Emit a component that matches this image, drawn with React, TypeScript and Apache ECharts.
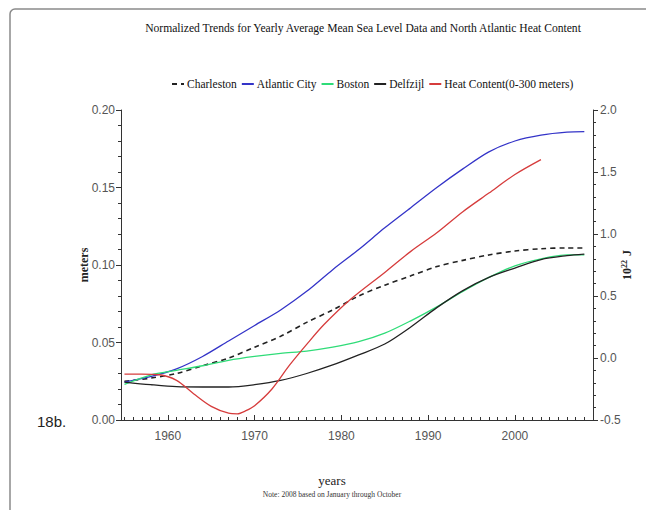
import React, { useEffect, useRef } from "react";
import * as echarts from "echarts";

// Yearly sampled trend values (meters) for the tide gauges
const seaYears = [1955, 1958, 1961, 1964, 1967, 1970, 1973, 1976, 1979, 1982, 1985, 1988, 1991, 1994, 1997, 2000, 2003, 2006, 2008];
const charleston = [0.025, 0.027, 0.030, 0.035, 0.040, 0.047, 0.054, 0.063, 0.071, 0.080, 0.087, 0.093, 0.099, 0.103, 0.1065, 0.109, 0.1105, 0.111, 0.111];
const atlanticCity = [0.0245, 0.028, 0.033, 0.041, 0.051, 0.061, 0.071, 0.083, 0.097, 0.110, 0.124, 0.137, 0.150, 0.162, 0.173, 0.180, 0.1838, 0.1857, 0.186];
const boston = [0.023, 0.029, 0.032, 0.035, 0.0385, 0.041, 0.043, 0.0445, 0.047, 0.0505, 0.056, 0.064, 0.073, 0.083, 0.092, 0.0995, 0.104, 0.1065, 0.1065];
const delfzijl = [0.0245, 0.0228, 0.0215, 0.0213, 0.0213, 0.0228, 0.0255, 0.030, 0.0355, 0.042, 0.049, 0.060, 0.0725, 0.0835, 0.092, 0.098, 0.1035, 0.106, 0.107];

// North Atlantic heat content, 0-300 m (10^22 J)
const heatYears = [1955, 1957, 1959, 1961, 1963, 1965, 1967, 1968, 1969, 1970, 1972, 1974, 1976, 1978, 1981, 1985, 1988, 1991, 1994, 1997, 2000, 2003];
const heatContent = [-0.13, -0.13, -0.135, -0.18, -0.29, -0.39, -0.445, -0.45, -0.425, -0.385, -0.25, -0.06, 0.11, 0.27, 0.47, 0.69, 0.86, 1.01, 1.18, 1.33, 1.48, 1.60];

// Axis ticks and labels
const yearLabels = [1960, 1970, 1980, 1990, 2000];
const yearTicks = Array.from({ length: 55 }, (_, i) => 1955 + i);

const SERIF = "Liberation Serif, Times New Roman, serif";
const SANS = "Liberation Sans, Arial, sans-serif";

const pairs = (xs: number[], ys: number[]) => xs.map((x, i) => [x, ys[i]]);

export default function App() {
  const ref = useRef<HTMLDivElement>(null);

  useEffect(() => {
    if (!ref.current) return;
    const chart = echarts.init(ref.current, undefined, { renderer: "svg" });

    const lineSeries = (name: string, data: number[][], color: string, extra: any = {}) => ({
      name,
      type: "line",
      data,
      smooth: 0.3,
      symbol: "none",
      showSymbol: false,
      lineStyle: { color, width: 1.3, ...(extra.lineStyle || {}) },
      itemStyle: { color },
      yAxisIndex: extra.yAxisIndex || 0,
      z: extra.z || 2,
    });

    chart.setOption({
      animation: false,
      backgroundColor: "#ffffff",
      title: {
        text: "Normalized Trends for Yearly Average Mean Sea Level Data and North Atlantic Heat Content",
        left: 358,
        top: 17,
        textAlign: "center",
        textStyle: { fontFamily: SERIF, fontSize: 11.6, fontWeight: "normal", color: "#111" },
      },
      legend: {
        left: 166,
        top: 73,
        itemWidth: 12,
        itemHeight: 8,
        itemGap: 4,
        itemStyle: { opacity: 0, borderWidth: 0 },
        textStyle: { fontFamily: SERIF, fontSize: 11.5, color: "#111", padding: [0, 0, 0, -2] },
        data: ["Charleston", "Atlantic City", "Boston", "Delfzijl", "Heat Content(0-300 meters)"],
      },
      grid: { left: 121, right: 53, top: 110, bottom: 90 },
      xAxis: [
        {
          type: "value",
          min: 1954.6,
          max: 2009,
          splitLine: { show: false },
          axisLine: { onZero: false, lineStyle: { color: "#333", width: 1 } },
          axisTick: { inside: true, length: 3, customValues: yearTicks, lineStyle: { color: "#333" } },
          axisLabel: {
            customValues: yearLabels,
            formatter: (v: number) => String(v),
            margin: 10,
            fontFamily: SANS,
            fontSize: 12,
            color: "#555",
          },
        },
        {
          type: "value",
          min: 1954.6,
          max: 2009,
          position: "bottom",
          splitLine: { show: false },
          axisLine: { show: false, onZero: false },
          axisTick: { inside: true, length: 5, customValues: yearLabels, lineStyle: { color: "#333" } },
          axisLabel: { show: false },
        },
      ],
      yAxis: [
        {
          type: "value",
          min: 0,
          max: 0.2,
          interval: 0.05,
          name: "meters",
          nameLocation: "middle",
          nameRotate: 90,
          nameGap: 31,
          nameMoveOverlap: false,
          nameTextStyle: { fontFamily: SERIF, fontSize: 12, fontWeight: "bold", color: "#222" },
          splitLine: { show: false },
          axisLine: { show: true, onZero: false, lineStyle: { color: "#333", width: 1 } },
          axisTick: { show: true, length: 5, lineStyle: { color: "#333" } },
          minorTick: { show: true, splitNumber: 5, length: 3, lineStyle: { color: "#333" } },
          axisLabel: {
            formatter: (v: number) => v.toFixed(2),
            margin: 6,
            fontFamily: SANS,
            fontSize: 12,
            color: "#555",
          },
        },
        {
          type: "value",
          min: -0.5,
          max: 2.0,
          interval: 0.5,
          position: "right",
          name: "10{sup|22} J",
          nameLocation: "middle",
          nameRotate: 90,
          nameGap: 27,
          nameMoveOverlap: false,
          nameTextStyle: {
            fontFamily: SERIF,
            fontSize: 12,
            fontWeight: "bold",
            color: "#222",
            rich: { sup: { fontFamily: SERIF, fontSize: 8, verticalAlign: "top", color: "#222", padding: [0, 1, 5, 0] } },
          },
          splitLine: { show: false },
          axisLine: { show: true, onZero: false, lineStyle: { color: "#333", width: 1 } },
          axisTick: { show: true, length: 5, lineStyle: { color: "#333" } },
          minorTick: { show: true, splitNumber: 5, length: 3, lineStyle: { color: "#333" } },
          axisLabel: {
            formatter: (v: number) => v.toFixed(1),
            margin: 7,
            fontFamily: SANS,
            fontSize: 12,
            color: "#555",
          },
        },
      ],
      series: [
        lineSeries("Charleston", pairs(seaYears, charleston), "#222222", { lineStyle: { type: [5, 4], width: 1.6 } }),
        lineSeries("Atlantic City", pairs(seaYears, atlanticCity), "#3434c8"),
        lineSeries("Boston", pairs(seaYears, boston), "#2fdc78"),
        lineSeries("Delfzijl", pairs(seaYears, delfzijl), "#222222"),
        lineSeries("Heat Content(0-300 meters)", pairs(heatYears, heatContent), "#d63c3c", { yAxisIndex: 1 }),
      ],
      graphic: [
        {
          type: "rect",
          shape: { x: 10, y: 9, width: 700, height: 600, r: 5 },
          style: { fill: "none", stroke: "#8a8a8a", lineWidth: 1.5 },
          silent: true,
        },
        {
          type: "text",
          x: 37,
          y: 421,
          style: { text: "18b.", fontFamily: SANS, fontSize: 15, fill: "#222", textVerticalAlign: "middle" },
        },
        {
          type: "text",
          x: 332,
          y: 480,
          style: { text: "years", fontFamily: SERIF, fontSize: 13, fill: "#222", textAlign: "center", textVerticalAlign: "middle" },
        },
        {
          type: "text",
          x: 332,
          y: 494,
          style: {
            text: "Note: 2008 based on January through October",
            fontFamily: SERIF,
            fontSize: 7.5,
            fill: "#333",
            textAlign: "center",
            textVerticalAlign: "middle",
          },
        },
      ],
    });

    return () => chart.dispose();
  }, []);

  return <div ref={ref} style={{ position: "fixed", left: 0, top: 0, width: 646, height: 510 }} />;
}
